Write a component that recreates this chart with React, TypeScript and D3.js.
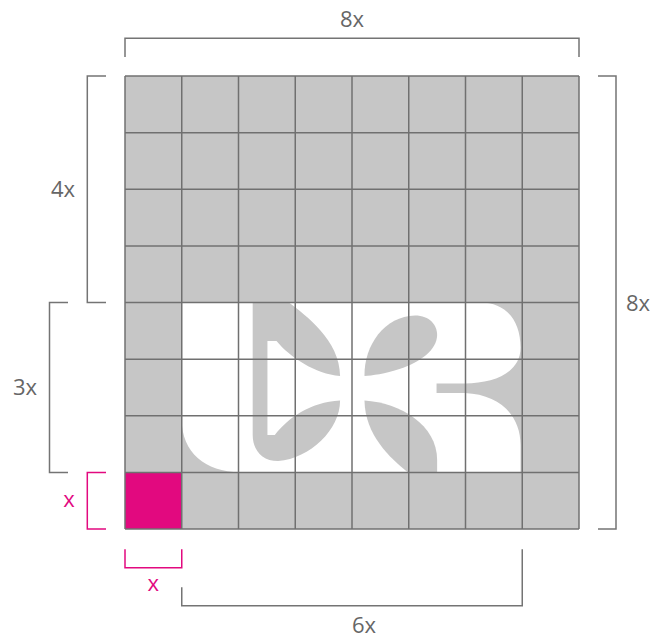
import * as React from "react";
import * as d3 from "d3";

// 8 x 8 construction grid, everything below is in grid units
const gridColumns = d3.range(8);
const gridRows = d3.range(8);

// cells that are cleared for the logo field
const fieldCols = [1, 2, 3, 4, 5, 6];
const fieldRows = [4, 5, 6];
// the "x" unit cell
const unitCell = [0, 7];

// logo pieces (grey on the white field), grid units
type Cmd = (string | number)[];

const cornerShape: Cmd[] = [
  ["M", 1.0, 6.07],
  ["C", 1.0, 6.64, 1.41, 6.99, 2.03, 7.0],
  ["L", 1.0, 7.0],
  ["Z"],
];

const stemShape: Cmd[] = [
  ["M", 2.25, 4.0],
  ["L", 2.89, 4.0],
  ["C", 3.17, 4.22, 3.79, 4.66, 3.79, 5.3],
  ["C", 3.35, 5.26, 2.91, 4.97, 2.67, 4.68],
  ["L", 2.51, 4.68],
  ["L", 2.51, 6.34],
  ["L", 2.64, 6.34],
  ["C", 2.87, 6.04, 3.26, 5.76, 3.79, 5.73],
  ["C", 3.79, 6.25, 3.26, 6.75, 2.7, 6.8],
  ["C", 2.41, 6.8, 2.25, 6.6, 2.25, 6.34],
  ["Z"],
];

const upperLeaf: Cmd[] = [
  ["M", 4.22, 5.3],
  ["C", 4.21, 4.75, 4.58, 4.24, 5.11, 4.23],
  ["C", 5.37, 4.23, 5.5, 4.4, 5.5, 4.57],
  ["C", 5.5, 4.84, 5.2, 5.05, 4.85, 5.17],
  ["C", 4.58, 5.26, 4.35, 5.29, 4.22, 5.3],
  ["Z"],
];

const lowerLeaf: Cmd[] = [
  ["M", 4.22, 5.73],
  ["C", 4.85, 5.77, 5.5, 6.16, 5.5, 6.78],
  ["L", 5.5, 7.0],
  ["L", 4.99, 7.0],
  ["C", 4.67, 6.75, 4.23, 6.34, 4.22, 5.73],
  ["Z"],
];

const rShape: Cmd[] = [
  ["M", 7.0, 4.0],
  ["L", 6.26, 4.0],
  ["C", 6.7, 4.0, 6.97, 4.3, 6.97, 4.8],
  ["C", 6.97, 5.23, 6.52, 5.43, 5.99, 5.43],
  ["L", 5.49, 5.43],
  ["L", 5.49, 5.6],
  ["L", 5.99, 5.6],
  ["C", 6.61, 5.63, 6.97, 5.99, 6.97, 6.52],
  ["L", 6.97, 7.0],
  ["L", 7.0, 7.0],
  ["Z"],
];

const logoShapes = [cornerShape, stemShape, upperLeaf, lowerLeaf, rShape];

// dimension brackets
const dimLabels = ["8x", "8x", "4x", "3x", "x", "x", "6x"];
const dimSpans = [[0, 8], [0, 8], [0, 4], [4, 7], [7, 8], [0, 1], [1, 7]];
const dimSides = ["top", "right", "left", "left", "left", "bottom", "bottom"];
const dimAccent = [false, false, false, false, true, true, false];

const GREY_CELL = "#c6c6c6";
const GRID_LINE = "#707070";
const BRACKET = "#747474";
const TEXT = "#666666";
const PINK = "#e2097f";

export default function App() {
  const width = 654;
  const height = 639;

  const x = d3.scaleLinear().domain([0, 8]).range([125, 579]);
  const y = d3.scaleLinear().domain([0, 8]).range([76, 529]);

  const outline = (cmds: Cmd[]) => {
    const p = d3.path();
    cmds.forEach((c) => {
      const v = c.slice(1) as number[];
      if (c[0] === "M") p.moveTo(x(v[0]), y(v[1]));
      else if (c[0] === "L") p.lineTo(x(v[0]), y(v[1]));
      else if (c[0] === "C")
        p.bezierCurveTo(x(v[0]), y(v[1]), x(v[2]), y(v[3]), x(v[4]), y(v[5]));
      else p.closePath();
    });
    return p.toString();
  };

  // where each bracket sits (line position, tick ends, label placement)
  const layout = [
    { line: 38.3, ticks: [57, 57], lx: 0, ly: 27 },
    { line: 616, ticks: [598, 598], lx: 638, ly: 8 },
    { line: 87.3, ticks: [106, 106], lx: 63, ly: 8 },
    { line: 49.5, ticks: [68, 68], lx: 25, ly: 8 },
    { line: 87.3, ticks: [106, 106], lx: 69, ly: 6 },
    { line: 567.7, ticks: [549.3, 549.3], lx: 0, ly: 591 },
    { line: 605.7, ticks: [587.3, 549.3], lx: 12, ly: 633 },
  ];

  const fieldCells = fieldRows.flatMap((r) => fieldCols.map((c) => [c, r]));

  return (
    <svg
      width={width}
      height={height}
      viewBox={`0 0 ${width} ${height}`}
      style={{ position: "absolute", left: 0, top: 0, background: "#fff" }}
    >
      {/* grid cells */}
      {gridRows.map((r) =>
        gridColumns.map((c) => (
          <rect
            key={`${c}-${r}`}
            x={x(c)}
            y={y(r)}
            width={x(c + 1) - x(c)}
            height={y(r + 1) - y(r)}
            fill={GREY_CELL}
          />
        ))
      )}
      {fieldCells.map(([c, r]) => (
        <rect
          key={`f${c}-${r}`}
          x={x(c)}
          y={y(r)}
          width={x(c + 1) - x(c) + 0.5}
          height={y(r + 1) - y(r) + 0.5}
          fill="#fff"
        />
      ))}
      <rect
        x={x(unitCell[0])}
        y={y(unitCell[1])}
        width={x(unitCell[0] + 1) - x(unitCell[0])}
        height={y(unitCell[1] + 1) - y(unitCell[1])}
        fill={PINK}
      />

      {/* logo */}
      {logoShapes.map((s, i) => (
        <path key={i} d={outline(s)} fill={GREY_CELL} />
      ))}

      {/* grid lines */}
      <g stroke={GRID_LINE} strokeWidth={1.5}>
        {d3.range(9).map((i) => (
          <line key={`v${i}`} x1={x(i)} x2={x(i)} y1={y(0)} y2={y(8)} />
        ))}
        {d3.range(9).map((i) => (
          <line key={`h${i}`} x1={x(0)} x2={x(8)} y1={y(i)} y2={y(i)} />
        ))}
      </g>

      {/* dimension brackets */}
      {dimLabels.map((label, i) => {
        const [s0, s1] = dimSpans[i];
        const L = layout[i];
        const col = dimAccent[i] ? PINK : BRACKET;
        const txt = dimAccent[i] ? PINK : TEXT;
        const horizontal = dimSides[i] === "top" || dimSides[i] === "bottom";
        let d: string;
        let tx: number;
        let ty: number;
        if (horizontal) {
          const a = x(s0);
          const b = x(s1);
          d = `M${a},${L.ticks[0]}V${L.line}H${b}V${L.ticks[1]}`;
          tx = (a + b) / 2 + L.lx;
          ty = L.ly;
        } else {
          const a = y(s0);
          const b = y(s1);
          d = `M${L.ticks[0]},${a}H${L.line}V${b}H${L.ticks[1]}`;
          tx = L.lx;
          ty = (a + b) / 2 + L.ly;
        }
        return (
          <g key={i}>
            <path d={d} fill="none" stroke={col} strokeWidth={1.5} />
            <text
              x={tx}
              y={ty}
              textAnchor="middle"
              fill={txt}
              fontSize={22}
              fontFamily="'Open Sans', 'Noto Sans', sans-serif"
            >
              {label}
            </text>
          </g>
        );
      })}
    </svg>
  );
}
